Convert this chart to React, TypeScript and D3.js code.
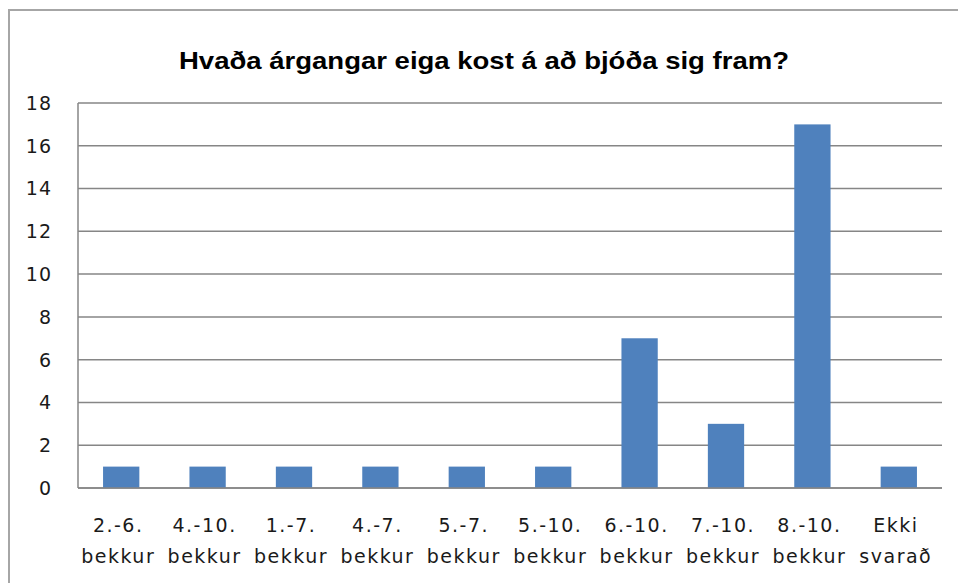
import React, { useRef, useEffect } from 'react';
import * as d3 from 'd3';

const title = 'Hvaða árgangar eiga kost á að bjóða sig fram?';
const categories = [
  ['2.-6.', 'bekkur'],
  ['4.-10.', 'bekkur'],
  ['1.-7.', 'bekkur'],
  ['4.-7.', 'bekkur'],
  ['5.-7.', 'bekkur'],
  ['5.-10.', 'bekkur'],
  ['6.-10.', 'bekkur'],
  ['7.-10.', 'bekkur'],
  ['8.-10.', 'bekkur'],
  ['Ekki', 'svarað'],
];
const values = [1, 1, 1, 1, 1, 1, 7, 3, 17, 1];
const yTicks = [0, 2, 4, 6, 8, 10, 12, 14, 16, 18];

const App = () => {
  const ref = useRef<SVGSVGElement>(null);

  useEffect(() => {
    const plot = { left: 78, right: 942, top: 103, bottom: 488 };

    const svg = d3.select(ref.current);
    svg.selectAll('*').remove();

    // chart frame
    svg.append('rect')
      .attr('x', 9).attr('y', 10)
      .attr('width', 980).attr('height', 600)
      .attr('fill', '#fff')
      .attr('stroke', '#a6a6a6')
      .attr('stroke-width', 2);

    // title
    svg.append('text')
      .attr('x', 484).attr('y', 69)
      .attr('text-anchor', 'middle')
      .attr('font-family', 'Liberation Sans, Arial, sans-serif')
      .attr('font-weight', 'bold')
      .attr('font-size', 24)
      .attr('textLength', 610)
      .attr('lengthAdjust', 'spacingAndGlyphs')
      .attr('fill', '#000')
      .text(title);

    const x = d3.scaleBand<number>()
      .domain(d3.range(categories.length))
      .range([plot.left, plot.right])
      .paddingInner(0.58)
      .paddingOuter(0.29);
    const xc = d3.scaleBand<number>()
      .domain(d3.range(categories.length))
      .range([plot.left, plot.right]);
    const y = d3.scaleLinear().domain([0, 18]).range([plot.bottom, plot.top]);

    // gridlines
    svg.append('g')
      .selectAll('line')
      .data(yTicks)
      .join('line')
        .attr('x1', plot.left).attr('x2', plot.right)
        .attr('y1', d => y(d)).attr('y2', d => y(d))
        .attr('stroke', '#868686')
        .attr('stroke-width', 1.5);

    // left axis line
    svg.append('line')
      .attr('x1', plot.left).attr('x2', plot.left)
      .attr('y1', y(18)).attr('y2', y(0))
      .attr('stroke', '#868686')
      .attr('stroke-width', 1.5);

    // y labels
    svg.append('g')
      .selectAll('text')
      .data(yTicks)
      .join('text')
        .attr('x', 52)
        .attr('y', d => y(d))
        .attr('dy', '0.36em')
        .attr('text-anchor', 'end')
        .attr('font-family', 'DejaVu Sans, Verdana, sans-serif')
        .attr('font-size', 19)
        .attr('letter-spacing', 1)
        .attr('fill', '#1a1a1a')
        .text(d => d);

    // bars
    svg.append('g')
      .selectAll('rect')
      .data(values)
      .join('rect')
        .attr('x', (d, i) => x(i)!)
        .attr('width', x.bandwidth())
        .attr('y', d => y(d))
        .attr('height', d => y(0) - y(d))
        .attr('fill', '#4f81bd');

    // bottom axis line (over bars)
    svg.append('line')
      .attr('x1', plot.left).attr('x2', plot.right)
      .attr('y1', y(0)).attr('y2', y(0))
      .attr('stroke', '#868686')
      .attr('stroke-width', 1.5);

    // category labels
    const lbl = svg.append('g')
      .selectAll('text')
      .data(categories)
      .join('text')
        .attr('text-anchor', 'middle')
        .attr('font-family', 'DejaVu Sans, Verdana, sans-serif')
        .attr('font-size', 19)
        .attr('letter-spacing', 1.5)
        .attr('fill', '#1a1a1a');
    lbl.each(function (d, i) {
      const t = d3.select(this);
      const cx = xc(i)! + xc.bandwidth() / 2 - 3;
      d.forEach((line, j) => {
        t.append('tspan')
          .attr('x', cx)
          .attr('y', 532 + j * 31)
          .text(line);
      });
    });
  }, []);

  return (
    <svg
      ref={ref}
      width={958}
      height={583}
      style={{ position: 'absolute', left: 0, top: 0, display: 'block' }}
    />
  );
};

export default App;
